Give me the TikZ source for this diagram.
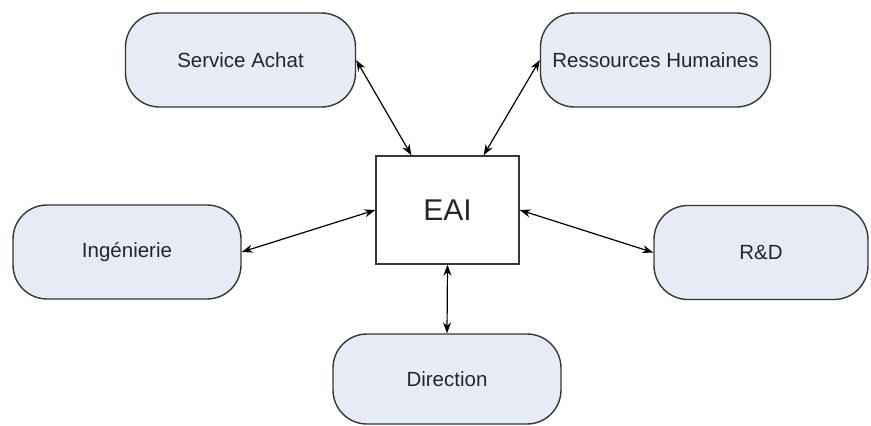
\documentclass[tikz,border=0pt]{standalone}
\usepackage{fontspec}
\setmainfont{Liberation Sans}
\usetikzlibrary{arrows.meta,calc}
\definecolor{boxfill}{RGB}{230,235,246}
\definecolor{boxline}{RGB}{55,55,55}
\begin{document}
\begin{tikzpicture}[x=1pt,y=-1pt,
  dept/.style={draw=boxline,line width=1.4pt,fill=boxfill,rounded corners=34pt,
    minimum width=230pt,minimum height=94pt,inner sep=0pt,
    font=\fontsize{20.5}{24}\selectfont,text=black!85},
  eai/.style={draw=boxline,line width=1.4pt,fill=white,minimum width=143pt,
    minimum height=108pt,inner sep=0pt,font=\fontsize{30}{35}\selectfont,text=black!85},
  link/.style={{Stealth[length=11pt,width=8pt]}-{Stealth[length=11pt,width=8pt]},line width=1.2pt,black}]
\useasboundingbox (0,0) rectangle (871,426);
\fill[white] (0,0) rectangle (871,426);
\node[dept] (sa) at (240.5,60) {Service Achat};
\node[dept] (rh) at (655.5,60) {Ressources Humaines};
\node[eai] (eai) at (447.5,210) {EAI};
\node[dept,minimum width=228pt] (ing) at (127,252) {Ingénierie};
\node[dept,minimum width=214pt] (rd) at (761,252.5) {R\&D};
\node[dept,minimum width=228pt,minimum height=90pt] (dir) at (447,379) {Direction};
\coordinate (t1) at ($(eai.north west)!0.25!(eai.north east)$);
\coordinate (t2) at ($(eai.north west)!0.75!(eai.north east)$);
\draw[link] (sa.east) -- (t1);
\draw[link] (rh.west) -- (t2);
\draw[link] (ing.east) -- (eai.west);
\draw[link] (eai.east) -- (rd.west);
\draw[link] (eai.south) -- (dir.north);
\end{tikzpicture}
\end{document}
